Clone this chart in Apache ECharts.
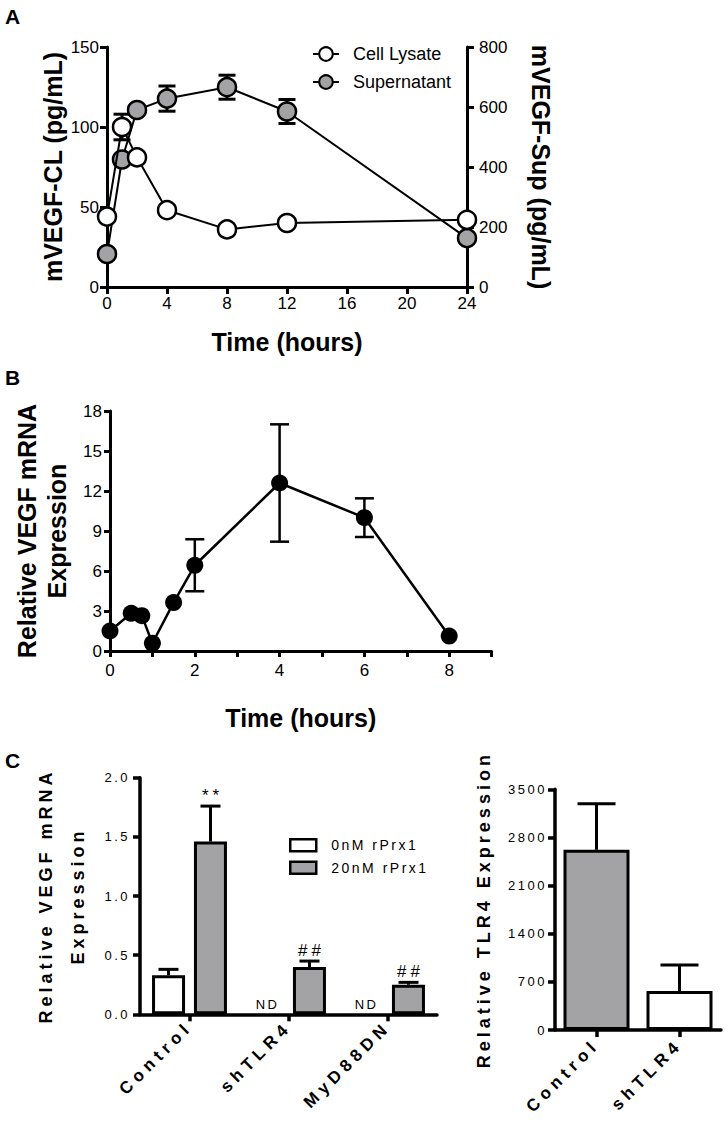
<!DOCTYPE html>
<html><head><meta charset="utf-8">
<script src="https://cdn.jsdelivr.net/npm/echarts@6/dist/echarts.min.js"></script>
<style>
html,body{margin:0;padding:0;background:#fff}
#chart{width:728px;height:1128px}
#chart text[style*="lsA"]{letter-spacing:2.5px}
#chart text[style*="lsB"]{letter-spacing:4px}
#chart text[style*="lsC"]{letter-spacing:5px}
</style></head><body><div id="chart"></div>
<script>
// ---------- Panel A data ----------
const aTime = [0, 1, 2, 4, 8, 12, 24];
const aLysate = [44, 100, 81, 48, 36, 40, 42];
const aLysateErr = [0, 8, 0, 0, 0, 0, 0];
const aSup = [110, 425, 590, 628, 666, 585, 163];
const aSupErr = [0, 0, 0, 42, 40, 40, 0];
const aXTicks = [0, 4, 8, 12, 16, 20, 24];
const aYLeftTicks = [0, 50, 100, 150];
const aYRightTicks = [0, 200, 400, 600, 800];
const aSeriesNames = ['Cell Lysate', 'Supernatant'];

// ---------- Panel B data ----------
const bTime = [0, 0.5, 0.75, 1, 1.5, 2, 4, 6, 8];
const bValue = [1.5, 2.83, 2.65, 0.58, 3.63, 6.43, 12.6, 10.0, 1.12];
const bErr = [0, 0, 0, 0, 0, 1.95, 4.4, 1.45, 0];
const bXLabels = [0, 2, 4, 6, 8];
const bYTicks = [0, 3, 6, 9, 12, 15, 18];

// ---------- Panel C (left) data ----------
const c1Cats = ['Control', 'shTLR4', 'MyD88DN'];
const c1Names = ['0nM rPrx1', '20nM rPrx1'];
const c1Zero = [0.33, null, null];
const c1ZeroErr = [0.05, 0, 0];
const c1Twenty = [1.46, 0.40, 0.25];
const c1TwentyErr = [0.30, 0.05, 0.02];
const c1Marks = ['**', '##', '##'];
const c1YTicks = [0, 0.5, 1.0, 1.5, 2.0];

// ---------- Panel C (right) data ----------
const c2Cats = ['Control', 'shTLR4'];
const c2Vals = [2620, 567];
const c2Err = [670, 378];
const c2YTicks = [0, 700, 1400, 2100, 2800, 3500];

// ---------- styling ----------
const F = 'Liberation Sans';
const FA = 'Liberation Sans, lsA';
const FB = 'Liberation Sans, lsB';
const FC = 'Liberation Sans, lsC';
const GRAY = '#a3a3a6';
const C2_FILL = [GRAY, '#ffffff'];
const ND_TEXT = 'ND';

function rng(t) { return { min: t[0], max: t[t.length - 1], interval: t[1] - t[0] }; }
function ax(w, tickLen) {
  return {
    axisLine: { show: true, onZero: false, lineStyle: { color: '#000', width: w } },
    axisTick: { show: true, length: tickLen, lineStyle: { color: '#000', width: w } },
    splitLine: { show: false }
  };
}
function errRender(capW, lw) {
  return function (params, api) {
    const x = api.value(0), y = api.value(1), e = api.value(2);
    if (!(e > 0)) return null;
    const hi = api.coord([x, y + e]), lo = api.coord([x, y - e]);
    const st = { stroke: '#000', lineWidth: lw };
    return { type: 'group', children: [
      { type: 'line', shape: { x1: hi[0], y1: hi[1], x2: lo[0], y2: lo[1] }, style: st },
      { type: 'line', shape: { x1: hi[0] - capW / 2, y1: hi[1], x2: hi[0] + capW / 2, y2: hi[1] }, style: st },
      { type: 'line', shape: { x1: lo[0] - capW / 2, y1: lo[1], x2: lo[0] + capW / 2, y2: lo[1] }, style: st }
    ] };
  };
}
function barErrRender(offset, capW, lw, marks) {
  return function (params, api) {
    const c = api.value(0), v = api.value(1), e = api.value(2);
    if (isNaN(v)) return null;
    const base = api.coord([c, v]), top = api.coord([c, v + (e > 0 ? e : 0)]);
    const x = base[0] + offset;
    const st = { stroke: '#000', lineWidth: lw };
    const children = [];
    if (e > 0) {
      children.push({ type: 'line', shape: { x1: x, y1: base[1], x2: x, y2: top[1] }, style: st });
      children.push({ type: 'line', shape: { x1: x - capW / 2, y1: top[1], x2: x + capW / 2, y2: top[1] }, style: st });
    }
    const m = marks ? marks[params.dataIndex] : '';
    if (m) {
      children.push({ type: 'text', x: x + 2, y: top[1] - 2,
        style: { text: m, fontSize: 17, fontFamily: FB, fill: '#000', align: 'center', verticalAlign: 'bottom' } });
    }
    return { type: 'group', children: children };
  };
}

const tickLbl = { color: '#000', fontSize: 17, fontFamily: F };
const cTickLbl = { color: '#000', fontSize: 13, fontFamily: FA };

const option = {
  animation: false,
  backgroundColor: '#fff',
  graphic: [
    { type: 'text', left: 5, top: 6, style: { text: 'A', font: 'bold 21px Liberation Sans', fill: '#000' } },
    { type: 'text', left: 5, top: 367, style: { text: 'B', font: 'bold 21px Liberation Sans', fill: '#000' } },
    { type: 'text', left: 5, top: 750, style: { text: 'C', font: 'bold 21px Liberation Sans', fill: '#000' } }
  ],
  legend: [
    { data: aSeriesNames, orient: 'vertical', left: 307, top: 40, itemWidth: 26, itemHeight: 17, itemGap: 10,
      textStyle: { fontSize: 18, fontFamily: F, color: '#000', padding: [0, 0, 0, 9] } },
    { data: c1Names, orient: 'vertical', left: 284, top: 833, icon: 'rect', itemWidth: 26, itemHeight: 12, itemGap: 8,
      itemStyle: { borderColor: '#000', borderWidth: 2.5 },
      textStyle: { fontSize: 14, fontFamily: FA, color: '#000', padding: [0, 0, 0, 10] } }
  ],
  grid: [
    { left: 107, top: 47, width: 360, height: 240 },
    { left: 110, top: 411, width: 381.6, height: 240 },
    { left: 140, top: 777.7, width: 297, height: 236.6 },
    { left: 555, top: 789.3, width: 166, height: 240.7 }
  ],
  xAxis: [
    Object.assign({ type: 'value', gridIndex: 0 }, rng(aXTicks), ax(3, 7), {
      name: 'Time (hours)', nameLocation: 'middle', nameGap: 42,
      nameTextStyle: { fontSize: 25, fontWeight: 'bold', fontFamily: F, color: '#000' },
      axisLabel: Object.assign({ margin: 8 }, tickLbl)
    }),
    Object.assign({ type: 'value', gridIndex: 1, min: 0, max: 9, interval: 1 }, ax(3, 6), {
      name: 'Time (hours)', nameLocation: 'middle', nameGap: 54,
      nameTextStyle: { fontSize: 25, fontWeight: 'bold', fontFamily: F, color: '#000' },
      axisLabel: Object.assign({ margin: 11, formatter: v => bXLabels.includes(v) ? String(v) : '' }, tickLbl)
    }),
    Object.assign({ type: 'category', gridIndex: 2, data: c1Cats }, ax(3.5, 7), {
      axisTick: { show: true, alignWithLabel: true, length: 7, lineStyle: { color: '#000', width: 3.5 } },
      axisLabel: { rotate: 45, margin: 10, color: '#000', fontSize: 17, fontWeight: 'bold', fontFamily: FC, interval: 0 }
    }),
    Object.assign({ type: 'category', gridIndex: 3, data: c2Cats }, ax(3.5, 7), {
      axisTick: { show: true, alignWithLabel: true, length: 7, lineStyle: { color: '#000', width: 3.5 } },
      axisLabel: { rotate: 45, margin: 12, color: '#000', fontSize: 17, fontWeight: 'bold', fontFamily: FC, interval: 0 }
    })
  ],
  yAxis: [
    Object.assign({ type: 'value', gridIndex: 0, position: 'left' }, rng(aYLeftTicks), ax(3, 7), {
      name: 'mVEGF-CL (pg/mL)', nameLocation: 'middle', nameRotate: 90, nameGap: 42,
      nameTextStyle: { fontSize: 25, fontWeight: 'bold', fontFamily: F, color: '#000' },
      axisLabel: Object.assign({ margin: 8 }, tickLbl)
    }),
    Object.assign({ type: 'value', gridIndex: 0, position: 'right' }, rng(aYRightTicks), ax(3, 7), {
      name: 'mVEGF-Sup (pg/mL)', nameLocation: 'middle', nameRotate: -90, nameGap: 61,
      nameTextStyle: { fontSize: 25, fontWeight: 'bold', fontFamily: F, color: '#000' },
      axisLabel: Object.assign({ margin: 12 }, tickLbl)
    }),
    Object.assign({ type: 'value', gridIndex: 1 }, rng(bYTicks), ax(3, 6), {
      name: 'Relative VEGF mRNA\nExpression', nameLocation: 'middle', nameRotate: 90, nameGap: 38,
      nameTextStyle: { fontSize: 25, fontWeight: 'bold', fontFamily: F, color: '#000', lineHeight: 30 },
      axisLabel: Object.assign({ margin: 8 }, tickLbl)
    }),
    Object.assign({ type: 'value', gridIndex: 2 }, rng(c1YTicks), ax(3.5, 7), {
      name: 'Relative VEGF mRNA\nExpression', nameLocation: 'middle', nameRotate: 90, nameGap: 46,
      nameTextStyle: { fontSize: 18, fontWeight: 'bold', fontFamily: FB, color: '#000', lineHeight: 32 },
      axisLabel: Object.assign({ margin: 10, formatter: v => v.toFixed(1) }, cTickLbl)
    }),
    Object.assign({ type: 'value', gridIndex: 3 }, rng(c2YTicks), ax(3.5, 7), {
      name: 'Relative TLR4 Expression', nameLocation: 'middle', nameRotate: 90, nameGap: 62,
      nameTextStyle: { fontSize: 18, fontWeight: 'bold', fontFamily: FB, color: '#000' },
      axisLabel: Object.assign({ margin: 8, formatter: v => String(v) }, cTickLbl)
    })
  ],
  series: [
    // Panel A
    { type: 'custom', name: 'supErr', xAxisIndex: 0, yAxisIndex: 1, z: 1, silent: true,
      renderItem: errRender(17, 3), data: aTime.map((t, i) => [t, aSup[i], aSupErr[i]]) },
    { type: 'custom', name: 'lysErr', xAxisIndex: 0, yAxisIndex: 0, z: 1, silent: true,
      renderItem: errRender(17, 3), data: aTime.map((t, i) => [t, aLysate[i], aLysateErr[i]]) },
    { type: 'line', name: aSeriesNames[1], xAxisIndex: 0, yAxisIndex: 1, z: 3,
      data: aTime.map((t, i) => [t, aSup[i]]), symbol: 'circle', symbolSize: 18,
      itemStyle: { color: GRAY, borderColor: '#000', borderWidth: 2.5 }, lineStyle: { color: '#000', width: 2 } },
    { type: 'line', name: aSeriesNames[0], xAxisIndex: 0, yAxisIndex: 0, z: 4,
      data: aTime.map((t, i) => [t, aLysate[i]]), symbol: 'circle', symbolSize: 18,
      itemStyle: { color: '#fff', borderColor: '#000', borderWidth: 2.5 }, lineStyle: { color: '#000', width: 2 } },
    // Panel B
    { type: 'custom', name: 'bErr', xAxisIndex: 1, yAxisIndex: 2, z: 1, silent: true,
      renderItem: errRender(19, 2.5), data: bTime.map((t, i) => [t, bValue[i], bErr[i]]) },
    { type: 'line', name: 'VEGF mRNA', xAxisIndex: 1, yAxisIndex: 2, z: 3,
      data: bTime.map((t, i) => [t, bValue[i]]), symbol: 'circle', symbolSize: 17,
      itemStyle: { color: '#000' }, lineStyle: { color: '#000', width: 2.5 } },
    // Panel C left
    { type: 'bar', name: c1Names[0], xAxisIndex: 2, yAxisIndex: 3, barWidth: 33, barGap: '27%',
      itemStyle: { color: '#fff', borderColor: '#000', borderWidth: 3 },
      data: c1Zero.map(v => v == null
        ? { value: 0, itemStyle: { borderWidth: 0 },
            label: { show: true, position: 'top', distance: 3, formatter: ND_TEXT, fontSize: 13, fontFamily: FA, color: '#000' } }
        : v) },
    { type: 'bar', name: c1Names[1], xAxisIndex: 2, yAxisIndex: 3, barWidth: 33, barGap: '27%',
      itemStyle: { color: GRAY, borderColor: '#000', borderWidth: 3 }, data: c1Twenty },
    { type: 'custom', name: 'c1ErrA', xAxisIndex: 2, yAxisIndex: 3, z: 5, silent: true,
      renderItem: barErrRender(-21, 20, 3, null), data: c1Zero.map((v, i) => [i, v, c1ZeroErr[i]]) },
    { type: 'custom', name: 'c1ErrB', xAxisIndex: 2, yAxisIndex: 3, z: 5, silent: true,
      renderItem: barErrRender(21, 20, 3, c1Marks), data: c1Twenty.map((v, i) => [i, v, c1TwentyErr[i]]) },
    // Panel C right
    { type: 'bar', name: 'TLR4', xAxisIndex: 3, yAxisIndex: 4, barWidth: 66,
      itemStyle: { borderColor: '#000', borderWidth: 3 },
      data: c2Vals.map((v, i) => ({ value: v, itemStyle: { color: C2_FILL[i] } })) },
    { type: 'custom', name: 'c2Err', xAxisIndex: 3, yAxisIndex: 4, z: 5, silent: true,
      renderItem: barErrRender(0, 38, 3, null), data: c2Vals.map((v, i) => [i, v, c2Err[i]]) }
  ]
};

const chart = echarts.init(document.getElementById('chart'), null, { renderer: 'svg', width: 728, height: 1128 });
chart.setOption(option);
</script></body></html>
